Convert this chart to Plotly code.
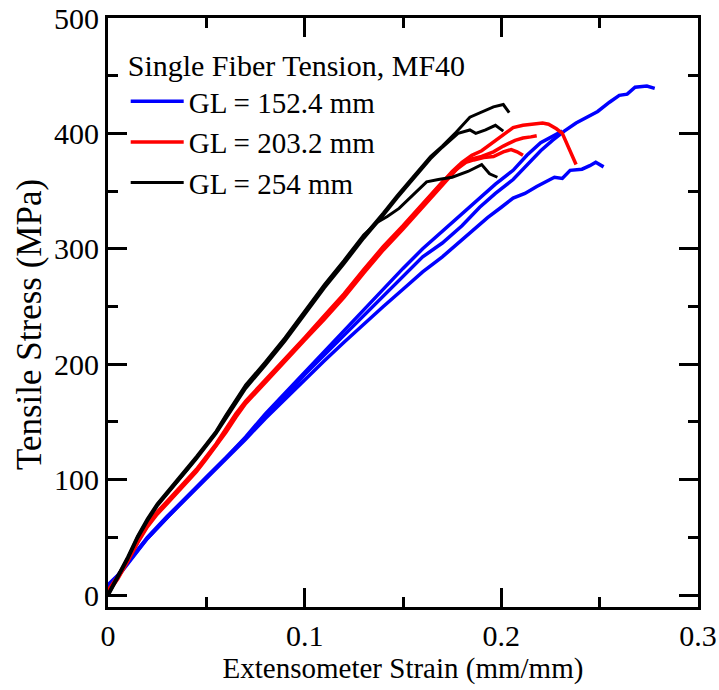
import plotly.graph_objects as go

# ---------------- data ----------------
# GL = 152.4 mm (blue)
blue1_x = [0, 0.005, 0.01, 0.015, 0.02, 0.03, 0.04, 0.05, 0.06, 0.07, 0.08, 0.09, 0.10, 0.11, 0.12, 0.13,
           0.14, 0.15, 0.16, 0.17, 0.18, 0.189, 0.197, 0.206, 0.213, 0.220, 0.226, 0.232, 0.238, 0.244,
           0.249, 0.255, 0.260, 0.264, 0.268, 0.274, 0.278]
blue1_y = [8, 17, 28, 39, 50, 68, 85, 101, 118, 136, 155, 172, 191, 208, 226, 243,
           260, 277, 293, 305, 320, 336, 348, 360, 372, 385, 394, 402, 409, 414,
           419, 427, 433, 434, 440, 441, 439]
blue2_x = [0, 0.005, 0.01, 0.015, 0.02, 0.03, 0.04, 0.05, 0.06, 0.07, 0.08, 0.09, 0.10, 0.11, 0.12, 0.13,
           0.14, 0.15, 0.16, 0.17, 0.18, 0.189, 0.197, 0.206, 0.213, 0.220, 0.226, 0.231]
blue2_y = [7, 16, 27, 38, 49, 67, 85, 102, 119, 137, 157, 175, 194, 212, 230, 248,
           265, 283, 300, 315, 330, 344, 356, 368, 381, 392, 397, 402]
blue3_x = [0, 0.005, 0.01, 0.015, 0.02, 0.03, 0.04, 0.05, 0.06, 0.07, 0.08, 0.09, 0.10, 0.11, 0.12, 0.13,
           0.14, 0.15, 0.16, 0.17, 0.174, 0.183, 0.193, 0.200, 0.206, 0.212, 0.218, 0.227, 0.231, 0.235,
           0.241, 0.245, 0.248, 0.252]
blue3_y = [9, 17, 28, 39, 49, 67, 84, 100, 117, 135, 153, 170, 187, 203, 219, 235,
           250, 265, 280, 293, 299, 313, 327, 336, 344, 348, 354, 362, 361, 368,
           369, 372, 375, 371]

# GL = 203.2 mm (red)
red1_x = [0, 0.005, 0.01, 0.015, 0.02, 0.025, 0.03, 0.035, 0.04, 0.045, 0.05, 0.055, 0.06, 0.065, 0.07,
          0.08, 0.09, 0.10, 0.11, 0.12, 0.13, 0.14, 0.15, 0.16, 0.17, 0.175, 0.180, 0.185, 0.190, 0.194,
          0.201, 0.206, 0.211, 0.216, 0.221, 0.224, 0.228, 0.231, 0.234, 0.238]
red1_y = [3, 15, 30, 46, 60, 71, 80, 89, 98, 108, 119, 130, 143, 156, 167,
          185, 204, 222, 241, 260, 281, 301, 319, 338, 358, 367, 375, 381, 385, 390,
          399, 405, 407, 408, 409, 408, 404, 400, 388, 373]
red2_x = [0, 0.005, 0.01, 0.015, 0.02, 0.025, 0.03, 0.035, 0.04, 0.045, 0.05, 0.055, 0.06, 0.065, 0.07,
          0.08, 0.09, 0.10, 0.11, 0.12, 0.13, 0.14, 0.15, 0.16, 0.17, 0.175, 0.180, 0.185, 0.190, 0.196,
          0.201, 0.207, 0.211, 0.215, 0.218]
red2_y = [2, 14, 29, 45, 59, 70, 79, 88, 97, 107, 118, 129, 141, 154, 166,
          184, 203, 221, 239, 258, 279, 299, 317, 336, 356, 365, 374, 378, 380, 384,
          389, 394, 396, 397, 398]
red3_x = [0, 0.005, 0.01, 0.015, 0.02, 0.025, 0.03, 0.035, 0.04, 0.045, 0.05, 0.055, 0.06, 0.065, 0.07,
          0.08, 0.09, 0.10, 0.11, 0.12, 0.13, 0.14, 0.15, 0.16, 0.17, 0.175, 0.178, 0.182, 0.186, 0.191,
          0.196, 0.201, 0.205, 0.208, 0.211]
red3_y = [4, 16, 31, 47, 61, 72, 81, 90, 99, 109, 120, 131, 144, 157, 168,
          186, 205, 223, 242, 261, 282, 302, 320, 339, 358, 366, 370, 375, 377, 379,
          380, 384, 386, 384, 381]

# GL = 254 mm (black)
black1_x = [0, 0.005, 0.01, 0.015, 0.02, 0.025, 0.03, 0.035, 0.04, 0.045, 0.05, 0.055, 0.06, 0.065, 0.07,
            0.08, 0.09, 0.10, 0.11, 0.12, 0.13, 0.14, 0.147, 0.155, 0.164, 0.170, 0.177, 0.184, 0.189,
            0.193, 0.196, 0.201, 0.204]
black1_y = [0, 16, 32, 50, 65, 78, 88, 98, 108, 119, 130, 141, 155, 168, 181,
            201, 222, 245, 268, 289, 311, 331, 346, 362, 380, 389, 401, 414, 418,
            421, 423, 425, 418]
black2_x = [0, 0.005, 0.01, 0.015, 0.02, 0.025, 0.03, 0.035, 0.04, 0.045, 0.05, 0.055, 0.06, 0.065, 0.07,
            0.08, 0.09, 0.10, 0.11, 0.12, 0.13, 0.14, 0.147, 0.155, 0.164, 0.170, 0.175, 0.178, 0.184,
            0.187, 0.192, 0.197, 0.201]
black2_y = [-1, 15, 31, 49, 64, 77, 87, 97, 107, 118, 129, 140, 153, 166, 179,
            199, 220, 243, 266, 287, 309, 329, 344, 360, 378, 388, 396, 400, 403,
            400, 403, 407, 402]
black3_x = [0, 0.005, 0.01, 0.015, 0.02, 0.025, 0.03, 0.035, 0.04, 0.045, 0.05, 0.055, 0.06, 0.065, 0.07,
            0.08, 0.09, 0.10, 0.11, 0.12, 0.13, 0.137, 0.142, 0.148, 0.154, 0.162, 0.168, 0.175, 0.183,
            0.190, 0.194, 0.198]
black3_y = [1, 17, 33, 51, 66, 79, 89, 99, 109, 120, 131, 142, 156, 169, 182,
            202, 223, 246, 269, 290, 312, 323, 328, 335, 345, 358, 360, 362, 367,
            373, 365, 362]

series = [
    ("GL = 152.4 mm", "#0000ff", 3.5, [(blue1_x, blue1_y), (blue2_x, blue2_y), (blue3_x, blue3_y)]),
    ("GL = 203.2 mm", "#ff0000", 3.5, [(red1_x, red1_y), (red2_x, red2_y), (red3_x, red3_y)]),
    ("GL = 254 mm", "#000000", 3.0, [(black1_x, black1_y), (black2_x, black2_y), (black3_x, black3_y)]),
]

x_ticks = [0, 0.1, 0.2, 0.3]
x_tick_labels = ["0", "0.1", "0.2", "0.3"]
y_ticks = [0, 100, 200, 300, 400, 500]
y_tick_labels = ["0", "100", "200", "300", "400", "500"]

FONT = "Times New Roman, Liberation Serif, serif"
NBSP = "\u00a0"

fig = go.Figure()
for name, color, lw, curves in series:
    for ci, (xs, ys) in enumerate(curves):
        fig.add_trace(go.Scatter(
            x=xs, y=ys, mode="lines", name=name,
            line=dict(color=color, width=lw),
            legendgroup=name, showlegend=(ci == 0),
        ))

fig.update_xaxes(
    range=[0, 0.3], tickmode="array", tickvals=x_ticks, ticktext=x_tick_labels,
    showline=True, linecolor="black", linewidth=3, mirror="ticks",
    ticks="inside", ticklen=19, tickwidth=3, tickcolor="black",
    minor=dict(dtick=0.05, ticks="inside", ticklen=10, tickwidth=3, tickcolor="black"),
    showgrid=False, zeroline=False, automargin=False,
    tickfont=dict(family=FONT, size=30, color="black"),
    title=dict(text=NBSP + "Extensometer Strain (mm/mm)", font=dict(family=FONT, size=29, color="black"), standoff=4),
)
fig.update_yaxes(
    range=[-10.4, 500], tickmode="array", tickvals=y_ticks, ticktext=y_tick_labels,
    showline=True, linecolor="black", linewidth=3, mirror="ticks",
    ticks="inside", ticklen=19, tickwidth=3, tickcolor="black",
    minor=dict(dtick=50, ticks="inside", ticklen=10, tickwidth=3, tickcolor="black"),
    showgrid=False, zeroline=False, automargin=False,
    tickfont=dict(family=FONT, size=30, color="black"),
)

fig.add_annotation(
    text="Tensile Stress (MPa)", textangle=-90,
    xref="paper", yref="paper", x=-0.132, y=0.479,
    xanchor="center", yanchor="middle", showarrow=False,
    font=dict(family=FONT, size=35, color="black"),
)

fig.update_layout(
    template="simple_white",
    width=719, height=690,
    margin=dict(l=108, r=21, t=18, b=83),
    paper_bgcolor="white", plot_bgcolor="white",
    font=dict(family=FONT, size=30, color="black"),
    showlegend=True,
    legend=dict(
        x=0.03, y=0.968, xanchor="left", yanchor="top",
        bgcolor="rgba(0,0,0,0)", borderwidth=0,
        title=dict(text="Single Fiber Tension, MF40", font=dict(family=FONT, size=30, color="black")),
        font=dict(family=FONT, size=29, color="black"),
        itemwidth=53, tracegroupgap=0,
    ),
)

fig.write_html("out.html")
